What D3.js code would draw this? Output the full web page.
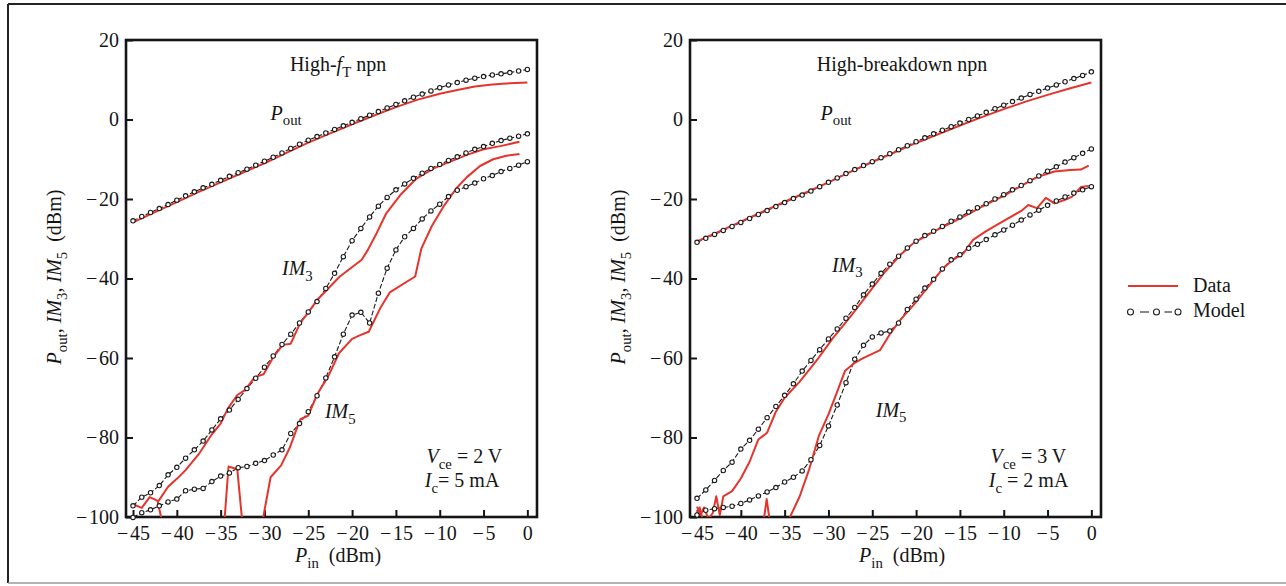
<!DOCTYPE html>
<html>
<head>
<meta charset="utf-8">
<script src="https://cdn.jsdelivr.net/npm/d3@7"></script>
<style>
  html, body { margin: 0; padding: 0; background: #fff; }
  svg { display: block; font-family: "Liberation Serif", "Times New Roman", serif; }
  svg text { font-family: "Liberation Serif", "Times New Roman", serif; }
</style>
</head>
<body>
<svg id="fig" width="1286" height="586"></svg>
<script>
// ---- Input power grid used by the model curves (dBm) ----
const pinSteps = [-45,-44,-43,-42,-41,-40,-39,-38,-37,-36,-35,-34,-33,-32,-31,-30,-29,-28,-27,-26,
                  -25,-24,-23,-22,-21,-20,-19,-18,-17,-16,-15,-14,-13,-12,-11,-10,-9,-8,-7,-6,
                  -5,-4,-3,-2,-1,0];

// ---- High-fT npn (Vce = 2 V, Ic = 5 mA) ----
const hfPoutModel = [-25.5,-24.4,-23.4,-22.4,-21.4,-20.3,-19.2,-18.2,-17.2,-16.3,
                     -15.3,-14.3,-13.4,-12.5,-11.5,-10.5,-9.5,-8.4,-7.3,-6.2,
                     -5.2,-4.3,-3.4,-2.5,-1.6,-0.7,0.2,1.1,2.0,2.9,
                     3.8,4.7,5.6,6.4,7.2,8.0,8.7,9.3,9.9,10.4,
                     10.8,11.2,11.5,11.8,12.2,12.6];
const hfIm3Model  = [-97.2,-95.0,-93.9,-92.1,-89.4,-87.5,-85.2,-83.1,-80.9,-78.1,
                     -75.3,-73.1,-70.4,-67.7,-65.1,-62.3,-59.5,-56.6,-54.0,-51.2,
                     -48.4,-45.8,-42.5,-38.7,-34.5,-30.5,-27.4,-24.5,-21.8,-19.6,
                     -17.7,-16.2,-14.8,-13.5,-12.3,-11.3,-10.3,-9.4,-8.4,-7.5,
                     -6.8,-6.0,-5.3,-4.7,-4.2,-3.6];
const hfIm5Model  = [-100.1,-98.9,-98.2,-97.2,-96.2,-95.5,-93.4,-93.0,-92.8,-91.1,
                     -89.7,-88.9,-87.6,-87.3,-86.5,-85.8,-84.4,-83.1,-79.0,-76.5,
                     -73.5,-69.5,-65.0,-59.7,-54.0,-49.2,-48.5,-51.2,-43.7,-37.4,
                     -32.8,-29.5,-27.4,-25.0,-23.0,-21.3,-19.4,-17.8,-16.9,-16.0,
                     -14.9,-14.1,-13.1,-12.3,-11.5,-10.6];
// measured traces: [Pin, Pout]; a null value breaks the trace
const hfPoutData = [[-45,-25.9],[-42.5,-23.3],[-40,-20.8],[-37.5,-18.2],[-35,-15.8],[-32.5,-13.4],
                    [-30,-11.0],[-27.5,-8.4],[-25,-5.8],[-22.5,-3.5],[-20,-1.2],[-17.5,1.0],
                    [-15,3.1],[-12.5,5.0],[-10,6.5],[-8,7.4],[-6,8.3],[-4,8.8],[-2,9.1],[0,9.3]];
const hfIm3Data  = [[-45,-96.8],[-44,-97.7],[-43.1,-95.0],[-42.1,-96.0],[-41,-92.4],[-40,-90.4],
                    [-39,-88.2],[-37.5,-84.2],[-36,-79.2],[-35,-76.5],[-34.2,-72.8],[-33.1,-69.3],
                    [-32.2,-68.0],[-31.1,-64.8],[-30.1,-64.1],[-29,-59.8],[-27.9,-56.7],[-27,-56.4],
                    [-25.9,-51.1],[-25,-48.6],[-24,-45.4],[-21.4,-39.5],[-18.9,-35.3],[-18.2,-32.8],
                    [-17.2,-28.6],[-16.1,-23.6],[-14.5,-19.0],[-13,-15.6],[-12.6,-14.8],[-10.7,-12.3],
                    [-8.8,-10.6],[-6.9,-8.9],[-5,-7.5],[-3.1,-6.7],[-0.9,-5.6]];
const hfIm5Data  = [[-42.2,-96.0],[-41.6,-102],[-41.6,null],
                    [-34.6,-102],[-34.1,-87.3],[-33.1,-88.0],[-32.5,-102],[-32.5,null],
                    [-30.3,-102],[-29.3,-90.0],[-28.1,-87.0],[-27.1,-82.5],[-26.1,-76.5],[-25.9,-75.4],
                    [-25,-74.5],[-24,-69.2],[-22.7,-64.5],[-21.5,-58.8],[-20,-55.2],[-19,-54.2],
                    [-18.1,-53.4],[-16.8,-47.5],[-15.7,-43.5],[-12.8,-39.5],[-12.1,-32.5],[-10.9,-26.8],
                    [-9.6,-22.0],[-8.1,-17.3],[-6.9,-14.5],[-5.4,-11.7],[-3.9,-10.0],[-2.4,-9.1],[-0.9,-8.7]];

// ---- High-breakdown npn (Vce = 3 V, Ic = 2 mA) ----
const hbPoutModel = [-30.9,-29.9,-28.9,-27.9,-26.9,-25.9,-24.9,-23.9,-22.9,-21.9,
                     -20.9,-19.9,-19.0,-18.0,-16.9,-15.8,-14.7,-13.6,-12.6,-11.6,
                     -10.6,-9.6,-8.6,-7.6,-6.6,-5.6,-4.6,-3.6,-2.7,-1.8,
                     -0.9,0.0,0.9,1.8,2.7,3.6,4.5,5.4,6.3,7.1,
                     7.9,8.7,9.5,10.3,11.1,12.0];
const hbIm3Model  = [-95.3,-93.2,-90.8,-88.3,-86.2,-82.9,-80.7,-77.9,-75.0,-72.2,
                     -69.4,-66.5,-63.3,-60.6,-57.9,-55.2,-52.7,-50.0,-47.3,-44.1,
                     -41.4,-38.7,-36.4,-34.4,-32.3,-30.6,-29.2,-28.1,-26.9,-25.6,
                     -24.5,-23.3,-22.2,-21.2,-20.0,-18.9,-17.7,-16.6,-15.4,-14.2,
                     -13.0,-11.9,-10.7,-9.6,-8.5,-7.4];
const hbIm5Model  = [-99.5,-98.3,-97.9,-97.6,-97.3,-96.6,-95.7,-94.7,-93.7,-92.6,
                     -91.2,-90.0,-88.4,-85.6,-82.0,-77.1,-71.8,-66.2,-60.3,-56.8,
                     -54.7,-53.7,-53.2,-51.2,-47.8,-45.2,-42.4,-40.2,-37.6,-35.3,
                     -34.0,-32.4,-31.4,-30.2,-29.0,-27.8,-26.6,-25.3,-24.0,-22.8,
                     -21.6,-20.5,-19.5,-18.5,-17.7,-16.9];
const hbPoutData = [[-45,-30.7],[-42.5,-28.2],[-40,-25.7],[-37.5,-23.2],[-35,-20.7],[-32.5,-18.3],
                    [-30,-15.8],[-27.5,-13.2],[-25,-10.7],[-22.5,-8.3],[-20,-5.9],[-17.5,-3.7],
                    [-15,-1.5],[-12.5,0.6],[-10,2.6],[-7.5,4.5],[-5,6.2],[-2.5,7.8],[0,9.3]];
const hbIm3Data  = [[-45,-97.4],[-44.6,-99.5],[-44.2,-97.6],[-43.7,-100.5],[-43.2,-99.0],[-42.8,-94.8],
                    [-42.4,-99.5],[-42,-94.8],[-41,-93.5],[-40,-90.3],[-39,-86.1],[-38,-80.5],
                    [-37,-78.8],[-36,-73.5],[-35,-70.0],[-33.3,-66.0],[-31.3,-60.5],[-29.5,-55.0],
                    [-27.5,-49.6],[-25.6,-44.2],[-23.7,-38.7],[-21.8,-34.1],[-20.3,-31.1],[-18,-28.2],
                    [-16.1,-26.1],[-14.2,-24.0],[-12.1,-21.5],[-10,-19.2],[-8.1,-16.8],[-6.2,-14.5],
                    [-4.2,-13.1],[-2.4,-12.7],[-1.2,-12.6],[-0.3,-11.6]];
const hbIm5Data  = [[-45,-99.2],[-44.7,-97.6],[-44.3,-101],[-44.3,null],
                    [-37.4,-101],[-37.05,-95.5],[-36.7,-101],[-36.7,null],
                    [-34.6,-101],[-33.3,-94.9],[-32.2,-88.0],[-31.1,-79.6],[-30,-74.2],[-29.1,-69.0],
                    [-28.1,-63.2],[-27,-61.2],[-26.1,-60.1],[-24.1,-58.0],[-23,-54.0],[-21.8,-50.4],
                    [-20.3,-46.7],[-19.2,-43.7],[-18,-40.4],[-16.9,-37.4],[-15.8,-35.3],[-14.6,-33.7],
                    [-13.5,-30.3],[-12.1,-28.2],[-10,-25.5],[-8,-23.0],[-7.2,-21.5],[-6.2,-22.3],
                    [-5.2,-19.7],[-4.2,-21.1],[-3,-20.2],[-2.2,-19.4],[-1.2,-17.0],[-0.3,-16.7]];

// ---- Axis ticks ----
const xTicks = [-45,-40,-35,-30,-25,-20,-15,-10,-5,0];
const yTicks = [20,0,-20,-40,-60,-80,-100];

const RED = "#e5342b";
const INK = "#151515";
const FS = 20;

const svg = d3.select("#fig");

// outer figure border (top, left, bottom)
svg.append("line").attr("x1", 8).attr("x2", 1286).attr("y1", 4).attr("y2", 4)
  .attr("stroke", "#222").attr("stroke-width", 2);
svg.append("line").attr("x1", 8).attr("x2", 8).attr("y1", 4).attr("y2", 583)
  .attr("stroke", "#222").attr("stroke-width", 2);
svg.append("line").attr("x1", 8).attr("x2", 1286).attr("y1", 583).attr("y2", 583)
  .attr("stroke", "#9a9a9a").attr("stroke-width", 1.5);

// text with italic parts and subscripts
function richText(sel, parts, size) {
  parts.forEach(p => {
    const t = sel.append("tspan").text(p.t);
    if (p.i) t.attr("font-style", "italic");
    if (p.sub) {
      t.attr("font-size", size * 0.74).attr("dy", size * 0.28);
    } else if (p.after) {
      t.attr("dy", -size * 0.28);
    }
  });
  return sel;
}
function sub(parts) {
  // mark the part that follows a subscript so its baseline is restored
  for (let k = 1; k < parts.length; k++) if (parts[k - 1].sub && !parts[k].sub) parts[k].after = true;
  return parts;
}

const minusFmt = d => d < 0 ? "\u2212\u200A" + Math.abs(d) : String(d);

function panel(cfg) {
  const x = d3.scaleLinear().domain([-45.8, 1.1]).range([cfg.x0, cfg.x0 + 411]);
  const y = d3.scaleLinear().domain([-100, 20]).range([517, 40]);
  const g = svg.append("g");

  const clipId = "clip" + cfg.id;
  svg.append("clipPath").attr("id", clipId).append("rect")
    .attr("x", x.range()[0]).attr("y", 40).attr("width", 411).attr("height", 477);

  // axes with inward ticks
  const ax = g.append("g").attr("transform", `translate(0,517)`)
    .call(d3.axisBottom(x).tickValues(xTicks).tickSizeInner(-7).tickSizeOuter(0)
      .tickPadding(8.5).tickFormat(minusFmt));
  const ay = g.append("g").attr("transform", `translate(${x.range()[0]},0)`)
    .call(d3.axisLeft(y).tickValues(yTicks).tickSizeInner(-7).tickSizeOuter(0)
      .tickPadding(7).tickFormat(minusFmt));
  [ax, ay].forEach(a => {
    a.attr("font-family", null).attr("font-size", null);
    a.select(".domain").remove();
    a.selectAll("line").attr("stroke", INK).attr("stroke-width", 2);
    a.selectAll("text").attr("font-size", FS).attr("fill", INK);
  });

  // frame
  g.append("rect").attr("x", x.range()[0]).attr("y", 40)
    .attr("width", 411).attr("height", 477)
    .attr("fill", "none").attr("stroke", INK).attr("stroke-width", 2.6);

  const plot = g.append("g").attr("clip-path", `url(#${clipId})`);
  const line = d3.line().defined(d => d[1] !== null).x(d => x(d[0])).y(d => y(d[1]));

  // model curves: thin dashed line with open circle markers
  cfg.models.forEach(vals => {
    const pts = pinSteps.map((p, k) => [p, vals[k]]);
    plot.append("path").attr("d", line(pts)).attr("fill", "none")
      .attr("stroke", "#1a1a1a").attr("stroke-width", 1.1).attr("stroke-dasharray", "5,2");
    g.append("g").selectAll("circle").data(pts).join("circle")
      .attr("cx", d => x(d[0])).attr("cy", d => y(d[1])).attr("r", 2.2)
      .attr("fill", "#fff").attr("stroke", "#1a1a1a").attr("stroke-width", 1.1);
  });

  // measured curves
  cfg.data.forEach(pts => {
    plot.append("path").attr("d", line(pts)).attr("fill", "none")
      .attr("stroke", RED).attr("stroke-width", 2).attr("stroke-linejoin", "round");
  });

  // labels
  const lab = (v, d, parts, anchor) => richText(
    g.append("text").attr("x", x(v)).attr("y", y(d)).attr("font-size", FS).attr("fill", INK)
      .attr("text-anchor", anchor || "start"), sub(parts), FS);

  lab(cfg.title.v, 12.2, cfg.title.parts, "middle");
  lab(cfg.pout[0], cfg.pout[1], [{t: "P", i: true}, {t: "out", sub: true}]);
  lab(cfg.im3[0], cfg.im3[1], [{t: "IM", i: true}, {t: "3", sub: true}]);
  lab(cfg.im5[0], cfg.im5[1], [{t: "IM", i: true}, {t: "5", sub: true}]);
  lab(cfg.bias[0], cfg.bias[1], [{t: "V", i: true}, {t: "ce", sub: true}, {t: " = " + cfg.vce}]);
  lab(cfg.bias[0] - 0.2, cfg.bias[1] - 6.1, [{t: "I", i: true}, {t: "c", sub: true}, {t: cfg.ic}]);

  // axis titles
  richText(g.append("text").attr("x", x(-21.6)).attr("y", 562).attr("font-size", FS)
    .attr("fill", INK).attr("text-anchor", "middle"),
    sub([{t: "P", i: true}, {t: "in", sub: true}, {t: "\u00a0\u00a0(dBm)"}]), FS);
  richText(g.append("text")
    .attr("transform", `translate(${x.range()[0] - 65},277) rotate(-90)`)
    .attr("font-size", FS).attr("fill", INK).attr("text-anchor", "middle"),
    sub([{t: "P", i: true}, {t: "out", sub: true}, {t: ", "}, {t: "IM", i: true}, {t: "3", sub: true},
         {t: ", "}, {t: "IM", i: true}, {t: "5", sub: true}, {t: "\u00a0\u00a0(dBm)"}]), FS);
}

panel({
  id: "L", x0: 126,
  models: [hfPoutModel, hfIm3Model, hfIm5Model],
  data: [hfPoutData, hfIm3Data, hfIm5Data],
  title: {v: -21.6, parts: [{t: "High-"}, {t: "f", i: true}, {t: "T", sub: true}, {t: " npn"}]},
  pout: [-29.3, 0.0], im3: [-28.0, -39.1], im5: [-23.1, -75.1],
  bias: [-11.5, -86.4], vce: "2 V", ic: "= 5 mA"
});
panel({
  id: "R", x0: 690,
  models: [hbPoutModel, hbIm3Model, hbIm5Model],
  data: [hbPoutData, hbIm3Data, hbIm5Data],
  title: {v: -21.6, parts: [{t: "High-breakdown npn"}]},
  pout: [-30.9, 0.0], im3: [-29.6, -38.3], im5: [-24.6, -74.8],
  bias: [-11.5, -86.4], vce: "3 V", ic: " = 2 mA"
});

// legend
const lg = svg.append("g").attr("font-size", FS).attr("fill", INK);
lg.append("line").attr("x1", 1128).attr("x2", 1178).attr("y1", 286).attr("y2", 286)
  .attr("stroke", RED).attr("stroke-width", 2.2);
lg.append("text").attr("x", 1193).attr("y", 292).text("Data");
[[1140, 1149], [1164.5, 1172]].forEach(s =>
  lg.append("line").attr("x1", s[0]).attr("x2", s[1]).attr("y1", 312).attr("y2", 312)
    .attr("stroke", "#222").attr("stroke-width", 1.1));
[1130.5, 1156.5, 1178].forEach(cx =>
  lg.append("circle").attr("cx", cx).attr("cy", 312).attr("r", 3)
    .attr("fill", "#fff").attr("stroke", "#222").attr("stroke-width", 1.1));
lg.append("text").attr("x", 1193).attr("y", 317).text("Model");
</script>
</body>
</html>
